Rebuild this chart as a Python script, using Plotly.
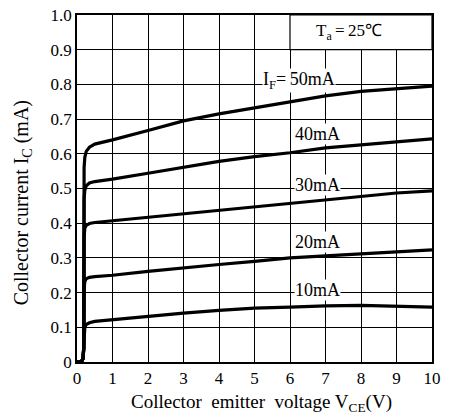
import plotly.graph_objects as go

# Collector-emitter voltage sample points (V)
vce = [0, 0.12, 0.17, 0.19, 0.2, 0.22, 0.26, 0.35, 0.5, 1, 2, 3, 4, 5, 6, 7, 8, 9, 10]

# Collector current (mA) for each forward current
ic_10ma = [0, 0, 0.01, 0.04, 0.085, 0.1, 0.108, 0.113, 0.117, 0.122, 0.132, 0.141, 0.149, 0.155, 0.158, 0.162, 0.163, 0.161, 0.158]
ic_20ma = [0, 0, 0.01, 0.04, 0.21, 0.232, 0.24, 0.244, 0.246, 0.25, 0.261, 0.272, 0.281, 0.29, 0.3, 0.306, 0.312, 0.317, 0.323]
ic_30ma = [0, 0, 0.01, 0.04, 0.36, 0.385, 0.394, 0.399, 0.402, 0.407, 0.416, 0.426, 0.437, 0.448, 0.458, 0.468, 0.477, 0.487, 0.493]
ic_40ma = [0, 0, 0.01, 0.04, 0.47, 0.495, 0.508, 0.516, 0.52, 0.527, 0.544, 0.561, 0.578, 0.592, 0.603, 0.617, 0.626, 0.636, 0.643]
ic_50ma = [0, 0, 0.01, 0.04, 0.56, 0.59, 0.607, 0.619, 0.628, 0.64, 0.667, 0.695, 0.715, 0.732, 0.75, 0.767, 0.78, 0.788, 0.795]

curves = [ic_10ma, ic_20ma, ic_30ma, ic_40ma, ic_50ma]

# Curve labels and where they sit
label_texts = ["10mA", "20mA", "30mA", "40mA", "I<sub>F</sub>=\u200950mA"]
label_x = [6.12, 6.12, 6.12, 6.12, 5.22]
label_y = [0.207, 0.347, 0.51, 0.656, 0.81]

x_ticks = list(range(0, 11))
y_ticks = [0, 0.1, 0.2, 0.3, 0.4, 0.5, 0.6, 0.7, 0.8, 0.9, 1.0]
y_tick_text = ["0", "0.1", "0.2", "0.3", "0.4", "0.5", "0.6", "0.7", "0.8", "0.9", "1.0"]

FONT = "Times New Roman"

fig = go.Figure()
for ic in curves:
    fig.add_trace(go.Scatter(
        x=vce, y=ic, mode="lines",
        line=dict(color="black", width=3.2),
        hoverinfo="skip", showlegend=False,
    ))

for txt, lx, ly in zip(label_texts, label_x, label_y):
    fig.add_annotation(
        x=lx, y=ly, text=txt, showarrow=False,
        xanchor="left", yanchor="middle",
        font=dict(family=FONT, size=18, color="black"),
        bgcolor="white", borderpad=0,
    )

# Ambient temperature box in the top-right corner
fig.add_shape(type="rect", x0=6, x1=10, y0=0.9, y1=1.0,
              line=dict(color="black", width=1.2), fillcolor="white", layer="above")
fig.add_annotation(
    x=7.66, y=0.952, text="T<sub>a</sub>\u2009=\u200925℃", showarrow=False,
    font=dict(family=FONT, size=17, color="black"),
)

# Axis titles
fig.add_annotation(
    xref="paper", yref="paper", x=-0.155, y=0.46,
    xanchor="center", yanchor="middle",
    text="Collector current I<sub>C</sub> (mA)", textangle=-90, showarrow=False,
    font=dict(family=FONT, size=20, color="black"),
)
fig.add_annotation(
    xref="paper", yref="paper", x=0.52, y=-0.118,
    xanchor="center", yanchor="middle",
    text="Collector  emitter  voltage V<sub>CE</sub>(V)", showarrow=False,
    font=dict(family=FONT, size=19, color="black"),
)

fig.update_layout(
    width=454, height=416,
    margin=dict(l=77, r=22, t=6, b=54),
    paper_bgcolor="white", plot_bgcolor="white",
    font=dict(family=FONT, color="black"),
    showlegend=False,
)
fig.update_xaxes(
    range=[0, 10], tickvals=x_ticks,
    showgrid=True, gridcolor="black", gridwidth=1,
    zeroline=False, showline=True, linecolor="black", linewidth=1.5, mirror=True,
    ticks="", tickfont=dict(family=FONT, size=17),
    ticklabeloverflow="allow",
)
fig.update_yaxes(
    range=[0, 1.0], tickvals=y_ticks, ticktext=y_tick_text,
    showgrid=True, gridcolor="black", gridwidth=1,
    zeroline=False, showline=True, linecolor="black", linewidth=1.5, mirror=True,
    ticks="", tickfont=dict(family=FONT, size=17),
    ticklabeloverflow="allow",
)

fig.write_html("out.html")
